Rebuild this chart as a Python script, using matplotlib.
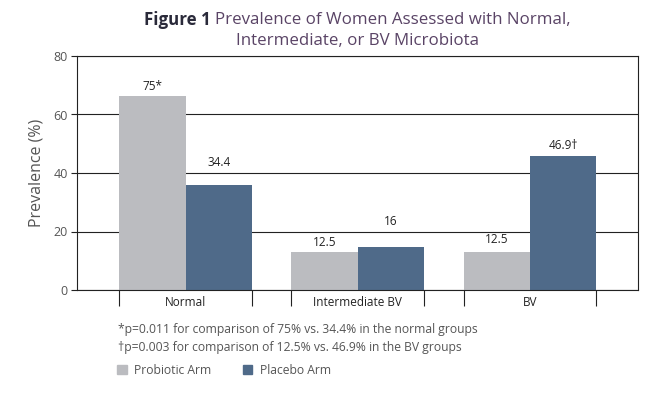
import matplotlib
matplotlib.use("Agg")
import matplotlib.pyplot as plt
from matplotlib.patches import Patch
import numpy as np

plt.rcParams['font.family'] = ['Open Sans', 'DejaVu Sans']

categories = ["Normal", "Intermediate BV", "BV"]
series_names = ["Probiotic Arm", "Placebo Arm"]
probiotic = [66.3, 13.1, 13.1]
placebo = [35.9, 14.7, 45.9]
probiotic_labels = ["75*", "12.5", "12.5"]
placebo_labels = ["34.4", "16", "46.9\u2020"]
yticks = [0, 20, 40, 60, 80]
title_bold = "Figure 1"
title_rest = "Prevalence of Women Assessed with Normal,"
title_line2 = "Intermediate, or BV Microbiota"
ylabel = "Prevalence (%)"
footnotes = ["*p=0.011 for comparison of 75% vs. 34.4% in the normal groups",
             "\u2020p=0.003 for comparison of 12.5% vs. 46.9% in the BV groups"]

# label offsets above bar tops (pixels)
prob_off = [10, 9, 12]
plac_off = [22, 26, 10]

c_gray = "#BBBCC0"
c_blue = "#4F6A89"

fig = plt.figure(figsize=(6.45, 3.98), dpi=100)
ax = fig.add_axes([77.3/645, 1-290/398, (638-77.3)/645, (290-56)/398])

x = np.arange(len(categories))
w = 0.386
ax.bar(x - w/2, probiotic, w, color=c_gray, zorder=2)
ax.bar(x + w/2, placebo, w, color=c_blue, zorder=2)

px2pt = 72/100
for i in range(len(categories)):
    ax.annotate(probiotic_labels[i], (x[i]-w/2, probiotic[i]), xytext=(0, prob_off[i]*px2pt),
                textcoords='offset points', ha='center', va='center', fontsize=8.5, color='#222222')
    ax.annotate(placebo_labels[i], (x[i]+w/2, placebo[i]), xytext=(0, plac_off[i]*px2pt),
                textcoords='offset points', ha='center', va='center', fontsize=8.5, color='#222222')

ax.set_xlim(-0.629, 2.627)
ax.set_ylim(0, 80)
ax.set_yticks(yticks)
ax.set_yticklabels([str(t) for t in yticks], color='#555555', fontsize=9)
ax.tick_params(axis='y', length=4, width=0.8, color='#222222', pad=3)
ax.yaxis.grid(True, color='#222222', linewidth=0.8, zorder=0)
ax.set_axisbelow(True)
ax.set_ylabel(ylabel, fontsize=11.5, color='#555555', labelpad=6)

edges = np.sort(np.concatenate([x - w, x + w]))
ax.set_xticks(edges)
ax.set_xticklabels([''] * len(edges))
ax.tick_params(axis='x', which='major', length=11.5, width=0.8, color='#222222')
ax.set_xticks(x, minor=True)
ax.set_xticklabels(categories, minor=True, fontsize=8.5, color='#222222')
ax.tick_params(axis='x', which='minor', length=0, pad=4)

for s in ax.spines.values():
    s.set_color('#222222')
    s.set_linewidth(0.8)

# title
cx = (77.3 + 638) / 2 / 645
t1 = fig.text(0, 1-20/398, title_bold + " ", fontsize=12.2, fontweight='bold', color='#2a2a3a', ha='left', va='center')
t2 = fig.text(0, 1-20/398, title_rest, fontsize=12.2, color='#5a4466', ha='left', va='center')
fig.canvas.draw()
r = fig.canvas.get_renderer()
w1 = t1.get_window_extent(r).width
w2 = t2.get_window_extent(r).width
start = cx*645 - (w1 + w2)/2
t1.set_x(start/645)
t2.set_x((start + w1)/645)
fig.text(cx, 1-41/398, title_line2, fontsize=12.2, color='#5a4466', ha='center', va='center')

# footnotes
fig.text(118/645, 1-329/398, footnotes[0], fontsize=8.7, color='#555555', ha='left', va='center')
fig.text(118/645, 1-348/398, footnotes[1], fontsize=8.7, color='#555555', ha='left', va='center')

handles = [Patch(color=c_gray), Patch(color=c_blue)]
fig.legend(handles, series_names, loc='center left', bbox_to_anchor=(117/645, 1-370/398),
           ncol=2, frameon=False, fontsize=8.7, handlelength=0.8, handleheight=0.8,
           handletextpad=0.6, columnspacing=2.6, borderpad=0, borderaxespad=0,
           labelcolor='#555555')

fig.savefig("out.png", dpi=100)
